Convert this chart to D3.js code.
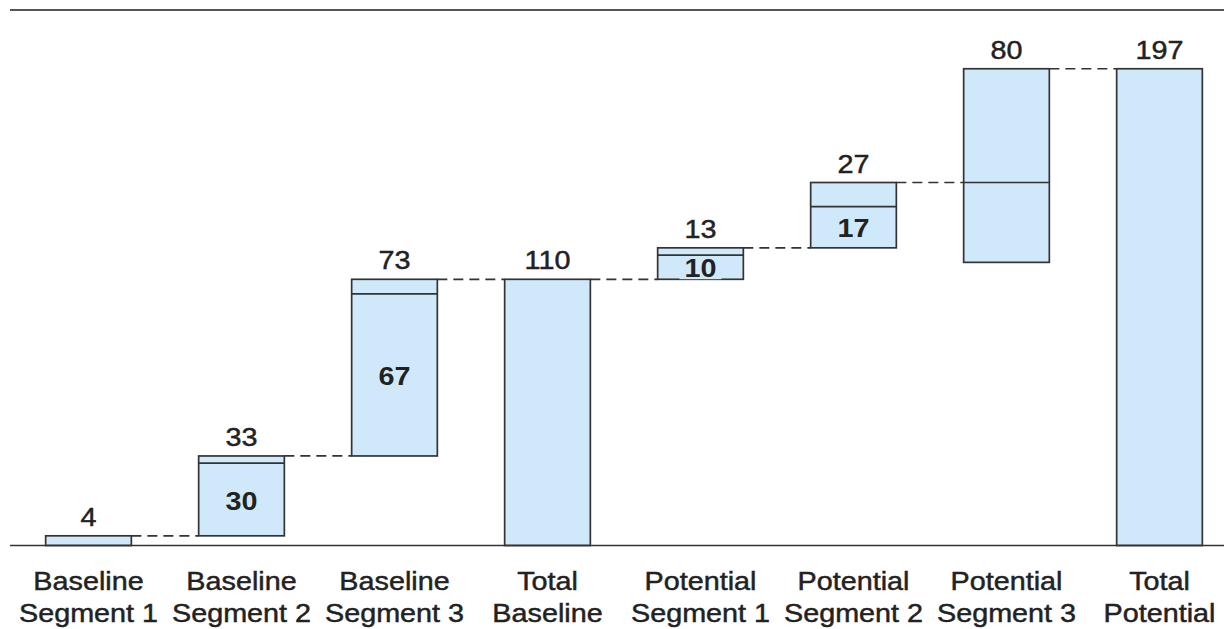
<!DOCTYPE html>
<html>
<head>
<meta charset="utf-8">
<script src="https://cdn.jsdelivr.net/npm/d3@7"></script>
<style>
  html, body { margin: 0; padding: 0; background: #fff; }
  text { font-family: "Liberation Sans", Arial, sans-serif; fill: #222; stroke: #222; stroke-width: 0.45; }
</style>
</head>
<body>
<div id="chart"></div>
<script>
const categories = [
  ['Baseline', 'Segment 1'],
  ['Baseline', 'Segment 2'],
  ['Baseline', 'Segment 3'],
  ['Total', 'Baseline'],
  ['Potential', 'Segment 1'],
  ['Potential', 'Segment 2'],
  ['Potential', 'Segment 3'],
  ['Total', 'Potential']
];
const barStart = [0, 4, 37, 0, 110, 123, 117, 0];
const barEnd = [4, 37, 110, 110, 123, 150, 197, 197];
const innerLine = [null, 34, 104, null, 120, 140, 150, null];
const topLabels = ['4', '33', '73', '110', '13', '27', '80', '197'];
const innerLabels = [null, '30', '67', null, '10', '17', null, null];

const config = {
  width: 1224,
  height: 629,
  baseY: 545.5,
  pxPerUnit: 2.42,
  fill: '#cfe9fa',
  stroke: '#333',
  stretch: 1.15
};

const svg = d3.select('#chart')
  .append('svg')
  .attr('width', config.width)
  .attr('height', config.height);

const x = d3.scaleBand()
  .domain(d3.range(categories.length))
  .range([12, 1236])
  .paddingInner(0.44)
  .paddingOuter(0.22);

const y = d3.scaleLinear()
  .domain([0, 220])
  .range([config.baseY, config.baseY - 220 * config.pxPerUnit]);

const cx = i => x(i) + x.bandwidth() / 2;
const idx = d3.range(categories.length);

// top rule
svg.append('line')
  .attr('x1', 10).attr('x2', 1224)
  .attr('y1', 10).attr('y2', 10)
  .attr('stroke', '#555').attr('stroke-width', 2);

// dashed connectors
svg.selectAll('line.conn')
  .data(d3.range(categories.length - 1))
  .enter()
  .append('line')
  .attr('class', 'conn')
  .attr('x1', i => x(i) + x.bandwidth())
  .attr('x2', i => x(i + 1))
  .attr('y1', i => y(barEnd[i]))
  .attr('y2', i => y(barEnd[i]))
  .attr('stroke', '#333')
  .attr('stroke-width', 1.7)
  .attr('stroke-dasharray', '10,6');

// bars
svg.selectAll('rect.bar')
  .data(idx)
  .enter()
  .append('rect')
  .attr('class', 'bar')
  .attr('x', i => x(i))
  .attr('width', x.bandwidth())
  .attr('y', i => y(barEnd[i]))
  .attr('height', i => y(barStart[i]) - y(barEnd[i]))
  .attr('fill', config.fill)
  .attr('stroke', config.stroke)
  .attr('stroke-width', 1.7);

// inner dividing lines
svg.selectAll('line.inner')
  .data(idx.filter(i => innerLine[i] !== null))
  .enter()
  .append('line')
  .attr('class', 'inner')
  .attr('x1', i => x(i))
  .attr('x2', i => x(i) + x.bandwidth())
  .attr('y1', i => y(innerLine[i]))
  .attr('y2', i => y(innerLine[i]))
  .attr('stroke', config.stroke)
  .attr('stroke-width', 1.7);

// inner labels with a fill-coloured backing
const inner = svg.selectAll('g.innerLabel')
  .data(idx.filter(i => innerLabels[i] !== null))
  .enter()
  .append('g')
  .attr('class', 'innerLabel')
  .attr('transform', i => `translate(${cx(i)},${(y(barStart[i]) + y(innerLine[i])) / 2 + 1})`);

inner.append('rect')
  .attr('x', -21).attr('width', 42)
  .attr('y', -11).attr('height', 22)
  .attr('fill', config.fill);

inner.append('text')
  .attr('text-anchor', 'middle')
  .attr('transform', `scale(${config.stretch},1)`)
  .attr('dy', '0.36em')
  .attr('font-size', 25)
  .attr('font-weight', 'bold')
  .style('stroke-width', 0)
  .attr('fill', '#2a2a2a')
  .text(i => innerLabels[i]);

// value labels above bars
svg.selectAll('text.top')
  .data(idx)
  .enter()
  .append('text')
  .attr('class', 'top')
  .attr('text-anchor', 'middle')
  .attr('transform', i => `translate(${cx(i)},${y(barEnd[i]) - 10}) scale(${config.stretch},1)`)
  .attr('font-size', 25)
  .text(i => topLabels[i]);

// baseline axis
svg.append('line')
  .attr('x1', 10).attr('x2', 1224)
  .attr('y1', config.baseY).attr('y2', config.baseY)
  .attr('stroke', '#333').attr('stroke-width', 1.7);

// category labels
const cat = svg.selectAll('text.cat')
  .data(idx)
  .enter()
  .append('text')
  .attr('class', 'cat')
  .attr('text-anchor', 'middle')
  .attr('font-size', 25)
  .attr('transform', i => `translate(${cx(i)},590) scale(${config.stretch},1)`);

cat.append('tspan')
  .attr('x', 0)
  .text(i => categories[i][0]);
cat.append('tspan')
  .attr('x', 0)
  .attr('dy', 32)
  .text(i => categories[i][1]);
</script>
</body>
</html>
